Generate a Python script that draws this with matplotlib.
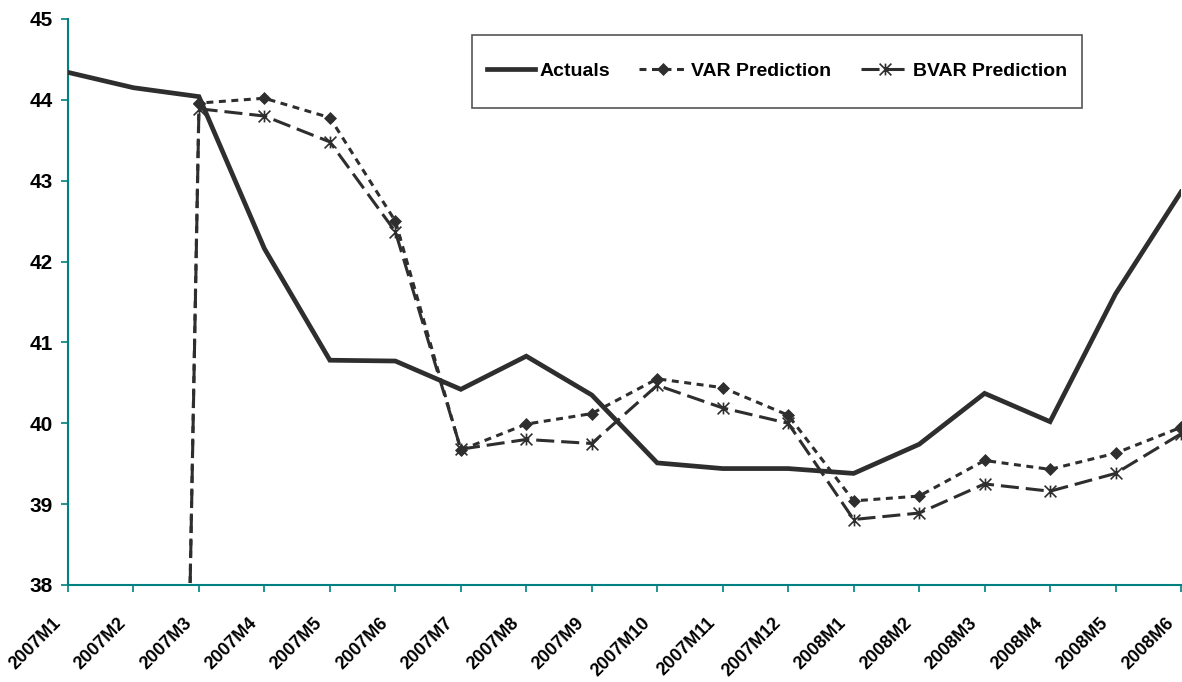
import numpy as np
import matplotlib
matplotlib.use("Agg")
import matplotlib.pyplot as plt
from matplotlib.path import Path
from matplotlib.patches import Rectangle
import matplotlib.transforms as mtransforms

plt.rcParams['font.family'] = ['Liberation Sans', 'DejaVu Sans']
plt.rcParams['font.weight'] = 'bold'
plt.rcParams['lines.scale_dashes'] = False

categories = ['2007M1', '2007M2', '2007M3', '2007M4', '2007M5', '2007M6',
              '2007M7', '2007M8', '2007M9', '2007M10', '2007M11', '2007M12',
              '2008M1', '2008M2', '2008M3', '2008M4', '2008M5', '2008M6']
actuals = [44.34, 44.15, 44.04, 42.16, 40.78, 40.77, 40.42, 40.83, 40.35,
           39.51, 39.44, 39.44, 39.38, 39.74, 40.37, 40.02, 41.60, 42.86]
var_pred = [0, 0, 43.96, 44.02, 43.78, 42.50, 39.67, 39.99, 40.12,
            40.55, 40.44, 40.10, 39.04, 39.10, 39.54, 39.43, 39.63, 39.95]
bvar_pred = [0, 0, 43.89, 43.80, 43.48, 42.37, 39.68, 39.80, 39.75,
             40.47, 40.19, 40.00, 38.81, 38.89, 39.25, 39.16, 39.38, 39.87]
y_ticks = [38, 39, 40, 41, 42, 43, 44, 45]

W, H = 1182, 682
fig = plt.figure(figsize=(W / 100, H / 100), dpi=100)
ax = fig.add_axes([68 / W, (H - 585) / H, (1181 - 68) / W, (585 - 19) / H])

teal = '#008080'
ink = '#2e2e2e'

star = Path([(0, -1), (0, 1), (-1, -1), (1, 1), (-1, 1), (1, -1)],
            [Path.MOVETO, Path.LINETO, Path.MOVETO, Path.LINETO, Path.MOVETO, Path.LINETO])

x = np.arange(len(categories))
ax.plot(x, actuals, color=ink, lw=3.4, solid_joinstyle='miter', label='Actuals', zorder=3)
ax.plot(x, var_pred, color=ink, lw=2.2, dashes=(5, 4), marker='D', markersize=6,
        markeredgewidth=0.5, label='VAR Prediction', zorder=4)
ax.plot(x, bvar_pred, color=ink, lw=2.2, dashes=(13, 5), marker=star, markersize=8.5,
        markeredgewidth=1.2, markerfacecolor='none', label='BVAR Prediction', zorder=4)

ax.set_xlim(0, len(categories) - 1)
ax.set_ylim(38, 45)

for s in ['top', 'right']:
    ax.spines[s].set_visible(False)
for s in ['left', 'bottom']:
    ax.spines[s].set_color(teal)
    ax.spines[s].set_linewidth(1.5)
ax.tick_params(axis='both', direction='out', length=5, width=1.2, color=teal)
ax.tick_params(axis='y', pad=6)
ax.tick_params(axis='x', pad=16)

ax.set_yticks(y_ticks)
ax.set_yticklabels([str(v) for v in y_ticks], fontsize=15, fontweight='bold')
ax.set_xticks(x)
ax.set_xticklabels(categories, fontsize=13, fontweight='bold', rotation=45,
                   ha='right', va='top', rotation_mode='anchor')
offset = mtransforms.ScaledTranslation(-16 / 100, 0, fig.dpi_scale_trans)
for tick in ax.xaxis.get_major_ticks():
    tick.label1.set_transform(tick.label1.get_transform() + offset)

# legend frame
fig.patches.append(Rectangle((472 / W, 1 - 108 / H), (1082 - 472) / W, (108 - 35) / H,
                             transform=fig.transFigure, fill=True, facecolor='white',
                             edgecolor='#555555', linewidth=1.2, zorder=5))
leg = fig.legend(loc='center', bbox_to_anchor=(777 / W, 1 - 71.5 / H),
                 bbox_transform=fig.transFigure, ncol=3, frameon=False,
                 prop={'size': 14, 'weight': 'bold'}, handlelength=2.5,
                 handletextpad=0.2, columnspacing=1.5)
leg.set_zorder(6)

fig.savefig('out.png', dpi=100)
